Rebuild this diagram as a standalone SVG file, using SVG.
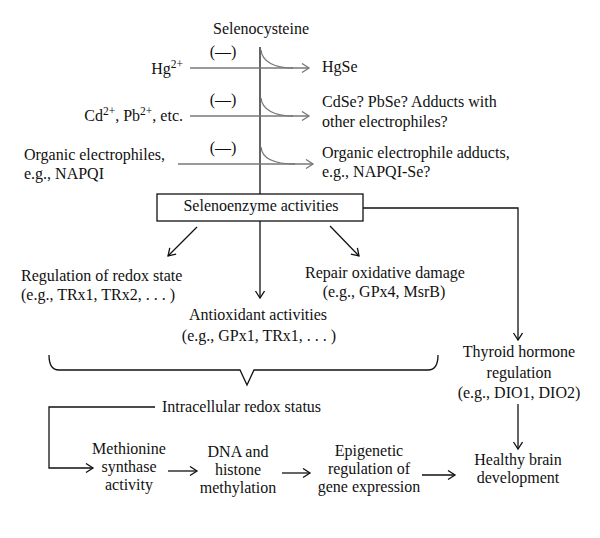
<svg xmlns="http://www.w3.org/2000/svg" width="600" height="538" viewBox="0 0 600 538">
<style>
text{font-family:"Liberation Serif","Times New Roman",serif;font-size:16px;fill:#111}
.c{text-anchor:middle}
.e{text-anchor:end}
.sup{font-size:11.5px}
.k{stroke:#111;stroke-width:1.3;fill:none}
.g{stroke:#777;stroke-width:1.3;fill:none}
</style>
<defs>
<marker id="ak" markerUnits="userSpaceOnUse" markerWidth="12" markerHeight="12" refX="8" refY="5" orient="auto">
<path d="M1,0.5 L8,5 L1,9.5" fill="none" stroke="#111" stroke-width="1.3"/>
</marker>
<marker id="ag" markerUnits="userSpaceOnUse" markerWidth="12" markerHeight="12" refX="8" refY="5" orient="auto">
<path d="M1,0.5 L8,5 L1,9.5" fill="none" stroke="#777" stroke-width="1.3"/>
</marker>
</defs>
<rect width="600" height="538" fill="#fff"/>
<g id="connectors">
<path class="k" d="M260,47 V194"/>
<path class="g" d="M190,68 H309" marker-end="url(#ag)"/>
<path class="g" d="M261,50 C262,62 275,68 293,68"/>
<path class="g" d="M190,116 H309" marker-end="url(#ag)"/>
<path class="g" d="M261,98 C262,110 275,116 293,116"/>
<path class="g" d="M178,164 H313" marker-end="url(#ag)"/>
<path class="g" d="M261,147 C262,159 276,164 295,164"/>
<path class="k" d="M197,227 L168,256" marker-end="url(#ak)"/>
<path class="k" d="M260,221 V298" marker-end="url(#ak)"/>
<path class="k" d="M330,226 L359,256" marker-end="url(#ak)"/>
<path class="k" d="M363,208 H518 V340" marker-end="url(#ak)"/>
<path class="k" d="M49,355 Q49,370 59,370 H240 L247,385 L254,370 H428 Q438,370 438,355"/>
<path class="k" d="M155,407 H49 V468 H93" marker-end="url(#ak)"/>
<path class="k" d="M168,471 H197" marker-end="url(#ak)"/>
<path class="k" d="M282,473 H310" marker-end="url(#ak)"/>
<path class="k" d="M422,475 H455" marker-end="url(#ak)"/>
<path class="k" d="M518,404 V449" marker-end="url(#ak)"/>
</g>
<g id="selenocysteine"><text class="c" x="261" y="34">Selenocysteine</text></g>
<g id="hg"><text class="e" x="183" y="74">Hg<tspan class="sup" dy="-6">2+</tspan></text></g>
<g id="inh1"><text class="c" x="223" y="57">(—)</text></g>
<g id="hgse"><text x="322" y="72">HgSe</text></g>
<g id="cdpb"><text class="e" x="183" y="121">Cd<tspan class="sup" dy="-6">2+</tspan><tspan dy="6">, Pb</tspan><tspan class="sup" dy="-6">2+</tspan><tspan dy="6">, etc.</tspan></text></g>
<g id="inh2"><text class="c" x="223" y="105">(—)</text></g>
<g id="cdse"><text x="322" y="107">CdSe? PbSe? Adducts with</text><text x="322" y="127">other electrophiles?</text></g>
<g id="organic"><text x="24" y="160">Organic electrophiles,</text><text x="24" y="179">e.g., NAPQI</text></g>
<g id="inh3"><text class="c" x="223" y="153">(—)</text></g>
<g id="adducts"><text x="322" y="158">Organic electrophile adducts,</text><text x="322" y="177">e.g., NAPQI-Se?</text></g>
<g id="selenoenzyme"><rect x="157" y="194" width="206" height="27" fill="#fff" stroke="#111" stroke-width="1.3"/><text class="c" x="261" y="211">Selenoenzyme activities</text></g>
<g id="redox"><text x="21" y="281">Regulation of redox state</text><text x="21" y="300">(e.g., TRx1, TRx2, . . . )</text></g>
<g id="repair"><text class="c" x="385" y="278">Repair oxidative damage</text><text class="c" x="384" y="297">(e.g., GPx4, MsrB)</text></g>
<g id="antioxidant"><text class="c" x="258" y="320">Antioxidant activities</text><text class="c" x="259" y="341">(e.g., GPx1, TRx1, . . . )</text></g>
<g id="thyroid"><text class="c" x="519" y="357">Thyroid hormone</text><text class="c" x="519" y="378">regulation</text><text class="c" x="519" y="398">(e.g., DIO1, DIO2)</text></g>
<g id="intracellular"><text x="162" y="412">Intracellular redox status</text></g>
<g id="methionine"><text class="c" x="129" y="454">Methionine</text><text class="c" x="129" y="472">synthase</text><text class="c" x="129" y="490">activity</text></g>
<g id="dna"><text class="c" x="238" y="457">DNA and</text><text class="c" x="238" y="475">histone</text><text class="c" x="238" y="493">methylation</text></g>
<g id="epigenetic"><text class="c" x="369" y="456">Epigenetic</text><text class="c" x="369" y="474">regulation of</text><text class="c" x="369" y="492">gene expression</text></g>
<g id="brain"><text class="c" x="518" y="465">Healthy brain</text><text class="c" x="518" y="483">development</text></g>
</svg>
